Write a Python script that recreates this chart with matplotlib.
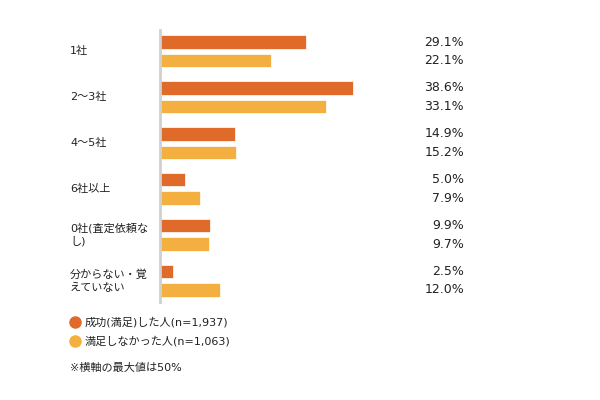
import matplotlib.pyplot as plt
from matplotlib.lines import Line2D
from matplotlib.transforms import blended_transform_factory

plt.rcParams['font.family'] = ['DejaVu Sans', 'Noto Sans CJK JP']

# データ
categories = ['1社', '2～3社', '4～5社', '6社以上', '0社(査定依頼な\nし)', '分からない・覚\nえていない']
success = [29.1, 38.6, 14.9, 5.0, 9.9, 2.5]
unsatisfied = [22.1, 33.1, 15.2, 7.9, 9.7, 12.0]
series_names = ['成功(満足)した人(n=1,937)', '満足しなかった人(n=1,063)']
note = '※横軸の最大値は50%'

c1 = '#DF6A2A'
c2 = '#F3AF3F'
txt = '#222222'

fig = plt.figure(figsize=(6, 4), dpi=100)
ax = fig.add_axes([160 / 600, 1 - 302 / 400, 250 / 600, 272 / 400])

h = 0.294
off = 0.2015
ys = list(range(len(categories)))
ax.barh([y - off for y in ys], success, height=h, color=c1, edgecolor='white', linewidth=0.5)
ax.barh([y + off for y in ys], unsatisfied, height=h, color=c2, edgecolor='white', linewidth=0.5)

ax.set_xlim(0, 50)
ax.set_ylim(len(categories) - 1 + 0.463, -0.463)
ax.set_xticks([])
ax.set_yticks([])
for s in ['top', 'right', 'bottom']:
    ax.spines[s].set_visible(False)
ax.spines['left'].set_color('#d0d0d0')
ax.spines['left'].set_linewidth(2)

tr = blended_transform_factory(fig.transFigure, ax.transData)

# カテゴリ名と数値ラベル
for y, cat, a, b in zip(ys, categories, success, unsatisfied):
    ax.text(70 / 600, y, cat, ha='left', va='center', fontsize=8, color=txt,
            transform=tr, linespacing=1.35)
    ax.text(464 / 600, y - off, f'{a:.1f}%', ha='right', va='center', fontsize=9, color=txt,
            transform=tr)
    ax.text(464 / 600, y + off, f'{b:.1f}%', ha='right', va='center', fontsize=9, color=txt,
            transform=tr)

# 凡例
for i, (name, c) in enumerate(zip(series_names, [c1, c2])):
    yy = 1 - (322 + i * 19) / 400
    fig.add_artist(Line2D([75 / 600], [yy], marker='o', markersize=8, color=c,
                          markeredgecolor=c, linestyle='none', transform=fig.transFigure))
    fig.text(85 / 600, yy, name, ha='left', va='center', fontsize=8, color=txt)

fig.text(70 / 600, 1 - 368 / 400, note, ha='left', va='center', fontsize=8, color=txt)

plt.savefig('out.png', dpi=100)
